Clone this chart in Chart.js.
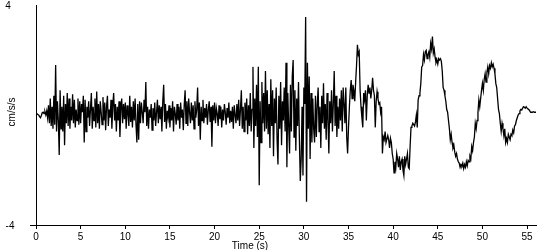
<!DOCTYPE html>
<html>
<head>
<meta charset="utf-8">
<title>Acceleration record</title>
<script src="https://cdn.jsdelivr.net/npm/chart.js@4.4.1/dist/chart.umd.min.js"></script>
<style>
  body { margin: 0; background: #fff; }
  #wrap { width: 550px; height: 250px; }
</style>
</head>
<body>
<div id="wrap"><canvas id="accChart" width="550" height="250"></canvas></div>
<script>
// sample spacing of the record, seconds
const sampleStep = 0.1;

// acceleration, cm/s/s, one row per second of record
const accel = [
  0.04, 0.05, 0.02, 0.0, -0.06, -0.1, -0.02, 0.08, 0.1, 0.05,
  0.12, 0.0, 0.15, -0.1, 0.35, -0.3, 0.6, -0.4, 0.3, -0.5,
  0.7, -0.35, 1.82, -0.6, 0.5, -0.2, -1.45, 0.9, -0.5, 0.3,
  -0.6, 0.7, -1.1, 0.4, -0.3, 0.8, -0.4, 0.6, -0.5, 0.3,
  -0.2, 0.75, -0.3, 0.55, -0.45, 0.2, -0.2, 0.6, -0.35, 0.5,
  -0.3, 0.4, 0.1, 0.7, -1.0, 0.55, -0.6, 0.3, -0.1, 0.5,
  -0.4, 0.2, 0.8, -0.5, 0.3, -0.2, 0.6, -0.45, 0.85, -0.3,
  0.4, -0.5, 0.5, 0.1, -0.35, 0.65, -0.2, 0.45, -0.55, 0.3,
  0.7, -0.4, 0.2, -0.1, 0.55, -0.5, 0.35, 0.8, -0.2, 0.4,
  -0.6, 0.3, -0.2, 0.5, -0.8, 0.25, 0.6, -0.3, 0.4, -0.15,
  0.45, -0.5, 0.35, 0.05, -0.4, 0.7, -0.25, 0.3, -0.45, 0.5,
  -0.2, 0.6, -0.35, -1.0, 0.4, -0.9, 0.5, -0.3, 0.45, 0.1,
  -0.3, 0.55, 0.1, 1.2, -0.4, 0.3, -0.5, 0.2, -0.1, 0.4,
  -0.55, 0.25, -0.2, 0.45, -0.4, 0.1, 0.55, -0.3, 0.35, -0.15,
  0.3, -0.6, 0.5, 1.1, -0.25, 0.4, -0.5, 0.15, -0.1, 0.35,
  -0.45, 0.25, -0.2, 0.5, -0.6, 0.3, 0.05, -0.35, 0.4, -0.2,
  0.3, -0.5, 0.45, -0.1, 0.2, -0.55, 0.35, 0.9, -0.3, 0.5,
  -0.4, 0.6, 0.1, -0.3, 0.45, -0.2, 0.35, -0.5, 0.5, -0.1,
  0.2, 1.0, -0.4, 0.45, -0.9, 0.3, -0.2, 0.55, -0.3, 0.25,
  -0.1, 0.4, -0.35, 0.2, 0.5, -0.25, 0.3, -1.15, 0.35, -0.2,
  0.45, -0.3, 0.25, 0.05, -0.4, 0.35, -0.15, 0.3, -0.45, 0.2,
  -0.2, 0.4, 0.1, -0.35, 0.25, -0.1, 0.45, -0.3, 0.15, -0.25,
  0.3, -0.5, 0.35, 0.0, -0.3, 0.4, -0.2, 0.55, -0.4, 0.2,
  0.9, -0.5, 0.3, -0.6, 0.45, -0.2, 0.6, -0.7, 0.35, -0.4,
  0.8, -0.6, 0.2, 1.75, -1.2, 0.6, -0.4, 1.1, -0.8, 1.75,
  -2.55, 0.5, -1.0, 1.2, -0.3, 0.8, -0.6, 1.6, -0.5, 0.9,
  -0.7, 0.4, -1.2, 1.3, -0.4, 0.9, -1.5, 0.6, -0.3, 1.0,
  -0.9, -1.8, 0.7, -0.5, 1.2, -1.1, 0.5, -0.2, 1.0, -0.6,
  1.9, -1.9, 0.8, -0.4, -1.4, 1.1, -0.6, 1.4, 2.0, -0.8,
  0.9, -1.3, 0.6, -0.4, 1.2, -0.9, -2.4, -1.6, 0.3, -2.2,
  1.0, 0.4, 3.56, -3.15, 1.9, -0.5, 1.4, -1.6, 0.8, -1.0,
  0.6, -0.5, -1.0, 0.7, -0.8, 0.4, 1.0, -0.6, 0.3, -1.2,
  0.7, -0.3, 1.15, -0.5, 0.4, -0.9, 0.8, -0.2, -1.4, 0.5,
  -0.3, 0.9, -0.6, 0.4, 1.6, -0.4, 0.7, -0.8, 0.3, -0.5,
  0.6, -0.2, 0.9, -0.6, 1.0, 0.4, -0.3, 1.0, -0.8, -1.4,
  -0.45, 0.3, 0.9, 1.27, 0.6, 1.1, 0.9, 0.5, 1.2, 1.8,
  2.55, 2.2, 2.3, 0.9, 0.3, -0.1, -0.45, 0.8, 0.55, 0.9,
  -0.2, 0.7, 1.1, 0.8, 1.0, 0.6, 0.9, 1.35, 0.9, 0.7,
  -0.45, 0.5, 0.85, 0.6, 0.4, 0.45, 0.1, 0.3, -1.4, -0.8,
  -0.9, -0.6, -1.0, -1.0, -0.75, -0.9, -1.2, -0.85, -1.0, -1.4,
  -1.6, -2.1, -1.7, -1.9, -1.4, -1.6, -1.9, -1.5, -2.0, -1.7,
  -1.6, -2.0, -2.2, -1.5, -1.8, -1.6, -1.4, -1.9, -1.95, -1.15,
  -0.45, -0.4, -0.3, -0.35, -0.4, -0.25, 0.0, -0.45, 0.55, 0.7,
  0.8, 1.15, 1.75, 1.8, 2.2, 2.0, 2.3, 2.35, 2.05, 2.2,
  2.3, 2.1, 2.6, 2.4, 2.85, 2.25, 2.4, 2.1, 1.9, 2.0,
  1.85, 2.05, 2.0, 2.05, 1.95, 1.6, 1.0, 0.9, 0.7, 0.5,
  0.2, 0.1, -0.2, -0.5, -0.9, -0.7, -1.0, -1.2, -1.1, -1.35,
  -1.5, -1.4, -1.6, -1.7, -1.75, -1.9, -1.8, -1.85, -1.75, -1.95,
  -1.8, -1.9, -1.7, -1.85, -1.65, -1.7, -1.5, -1.6, -1.15, -1.3,
  -1.0, -0.8, -0.3, -0.5, -0.2, 0.1, 0.55, 0.3, 0.6, 0.9,
  1.15, 0.9, 1.3, 1.5, 1.2, 1.55, 1.75, 1.5, 1.8, 1.7,
  1.9, 1.75, 1.85, 1.7, 1.5, 1.15, 1.0, 0.6, 0.2, 0.05,
  -0.3, -0.6, -0.3, -0.5, -0.75, -0.5, -1.0, -0.85, -1.0, -0.7,
  -0.8, -0.9, -0.7, -0.75, -0.55, -0.65, -0.4, -0.35, -0.2, -0.1,
  0.0, 0.05, 0.15, 0.2, 0.18, 0.25, 0.3, 0.28, 0.25, 0.3,
  0.25, 0.22, 0.2, 0.15, 0.1, 0.1, 0.1, 0.12, 0.1, 0.1,
  0.1
];

const xTickValues = [0, 5, 10, 15, 20, 25, 30, 35, 40, 45, 50, 55];
const yMin = -4;
const yMax = 4;
const xMax = 56;

const points = accel.map((v, i) => ({ x: +(i * sampleStep).toFixed(1), y: v }));

// axis texts sit far left of the axis, so draw them by hand
const axisText = {
  id: "axisText",
  afterDraw(chart) {
    const ctx = chart.ctx;
    const area = chart.chartArea;
    const ys = chart.scales.y;
    ctx.save();
    ctx.fillStyle = "#000";
    ctx.strokeStyle = "#000";
    ctx.lineWidth = 1;
    // x axis line runs a bit past the y axis
    ctx.beginPath();
    ctx.moveTo(30, Math.round(area.bottom) + 0.5);
    ctx.lineTo(area.left, Math.round(area.bottom) + 0.5);
    ctx.stroke();

    ctx.font = "10px 'Liberation Sans', Arial, sans-serif";
    ctx.textAlign = "center";
    ctx.textBaseline = "middle";
    ctx.fillText(String(yMax), 8, ys.getPixelForValue(yMax) + 1);
    ctx.fillText(String(yMin), 10, ys.getPixelForValue(yMin) + 1);
    ctx.fillText("Time (s)", 250, 246);

    ctx.translate(12, 112);
    ctx.rotate(-Math.PI / 2);
    ctx.fillText("cm/s/s", 0, 0);
    ctx.restore();
  }
};

const ctx = document.getElementById("accChart").getContext("2d");
const accChart = new Chart(ctx, {
  type: "line",
  data: {
    datasets: [
      {
        data: points,
        borderColor: "#000",
        borderWidth: 1.3,
        pointRadius: 0,
        tension: 0,
        fill: false,
      },
    ],
  },
  options: {
    responsive: false,
    animation: false,
    events: [],
    layout: { padding: { top: 5, right: 14, left: 0, bottom: 0 } },
    plugins: {
      legend: { display: false },
      tooltip: { enabled: false },
    },
    scales: {
      x: {
        type: "linear",
        min: 0,
        max: xMax,
        afterBuildTicks: (scale) => {
          scale.ticks = xTickValues.map((v) => ({ value: v }));
        },
        afterFit: (scale) => {
          scale.height = 25;
        },
        grid: {
          drawOnChartArea: false,
          drawTicks: true,
          tickLength: 4,
          color: "#000",
        },
        border: { display: true, color: "#000", width: 1 },
        ticks: {
          color: "#000",
          padding: 2,
          maxRotation: 0,
          autoSkip: false,
          font: { family: "'Liberation Sans', Arial, sans-serif", size: 10 },
        },
      },
      y: {
        min: yMin,
        max: yMax,
        afterFit: (scale) => {
          scale.width = 36;
        },
        grid: { drawOnChartArea: false, drawTicks: false },
        border: { display: true, color: "#000", width: 1 },
        ticks: { display: false },
      },
    },
  },
  plugins: [axisText],
});
</script>
</body>
</html>
